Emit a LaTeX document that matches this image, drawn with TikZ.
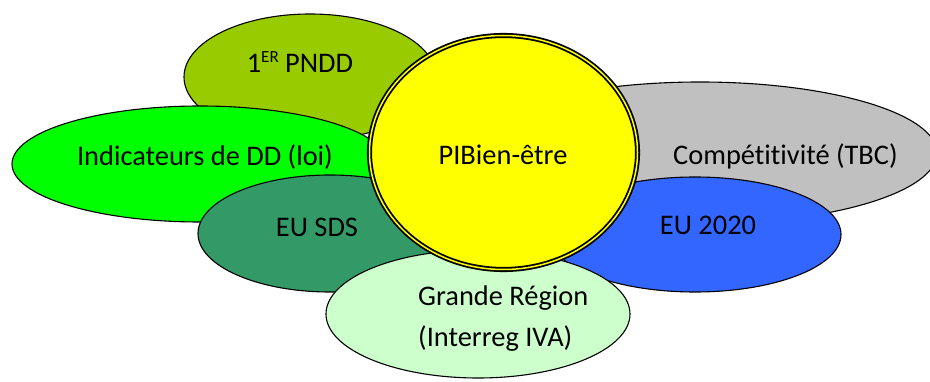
\documentclass[tikz,border=0pt]{standalone}
\usepackage{fontspec}
\setmainfont[Ligatures={NoCommon,NoContextual}]{Carlito}
\usetikzlibrary{shapes.geometric}
\definecolor{cPNDD}{HTML}{99CC00}
\definecolor{cIND}{HTML}{00FF00}
\definecolor{cSDS}{HTML}{339966}
\definecolor{cCOMP}{HTML}{C0C0C0}
\definecolor{cEU}{HTML}{3366FF}
\definecolor{cGR}{HTML}{CCFFCC}
\definecolor{cPIB}{HTML}{FFFF00}
\begin{document}
\begin{tikzpicture}[x=1pt,y=-1pt,
  blob/.style={ellipse, draw=black, line width=1.1pt, inner sep=0pt, outer sep=0pt},
  lbl/.style={anchor=base, inner sep=0pt, font=\fontsize{28.4}{34}\selectfont, text=black}]
\useasboundingbox (0,0) rectangle (930,382);
% ellipses, back to front
\node[blob, fill=cPNDD, minimum width=252pt, minimum height=126pt] (pndd) at (310,77) {};
\node[blob, fill=cIND, minimum width=376pt, minimum height=116pt] (ind) at (200,164) {};
\node[blob, fill=cSDS, minimum width=264pt, minimum height=117pt] (sds) at (330,233.5) {};
\node[blob, fill=cCOMP, minimum width=474pt, minimum height=142pt] (comp) at (700,153) {};
\node[blob, fill=cEU, minimum width=292pt, minimum height=115pt] (eu) at (695,234.5) {};
\node[blob, fill=cGR, minimum width=304pt, minimum height=128pt] (gr) at (478,314) {};
\node[ellipse, draw=black, double=cPIB, double distance=1.5pt, line width=1.8pt,
      fill=cPIB, inner sep=0pt, minimum width=268pt, minimum height=234pt] (pib) at (503.5,152.5) {};
% labels
\node[lbl] (tpndd) at (300,72.7) {1\raisebox{10pt}{\fontsize{17}{17}\selectfont ER} PNDD};
\node[lbl] (tind) at (205,166) {Indicateurs de DD (loi)};
\node[lbl] (tsds) at (317,236.7) {EU SDS};
\node[lbl] (tcomp) at (785.5,164.7) {Compétitivité (TBC)};
\node[lbl] (teu) at (708,235) {EU 2020};
\node[lbl] (tpib) at (503,165) {PIBien-être};
\node[lbl, anchor=base west] (tgr1) at (418,305.7) {Grande Région};
\node[lbl, anchor=base west] (tgr2) at (418,346.7) {(Interreg IVA)};
\end{tikzpicture}
\end{document}
